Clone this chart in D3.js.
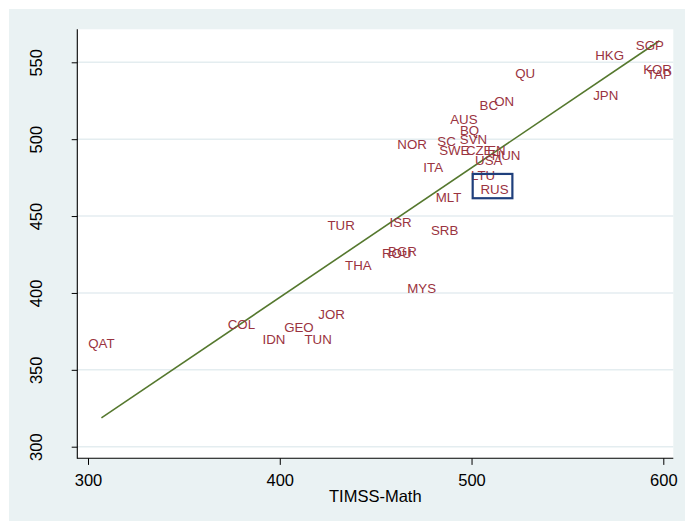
<!DOCTYPE html>
<html>
<head>
<meta charset="utf-8">
<script src="https://cdn.jsdelivr.net/npm/d3@7"></script>
<style>
  html, body { margin: 0; padding: 0; background: #ffffff; }
  svg { display: block; font-family: "Liberation Sans", Arial, Helvetica, sans-serif; }
</style>
</head>
<body>
<svg id="chart" width="685" height="521"></svg>
<script>
// ---- data ----
const countries = ["QAT","COL","IDN","GEO","TUN","JOR","THA","ROU","BGR","MYS",
                   "TUR","ISR","SRB","MLT","ITA","NOR","SC","SWE","BQ","AUS",
                   "SVN","CZE","EN","HUN","USA","LTU","RUS","BC","ON","QU",
                   "JPN","HKG","SGP","KOR","TAP"];
const timssMath = [307,380,397,410,420,427,441,461,464,474,
                   432,463,486,488,480,469,487,491,499,496,
                   501,504,513,518,509,506,512,509,517,528,
                   570,572,593,597,598];
const pisaMath  = [367.5,379.5,370,378,370,386,418,426,427,403,
                   444,446,441,462,482,497,498.5,493,506,513,
                   500,492.5,493,489.5,486,476.5,467.5,522,525,543,
                   528.5,554.5,561,545.5,542];
const fitX = [307, 598];
const fitY = [318.7, 564];
const boxX = [500.6, 521.3];
const boxY = [461.6, 477.4];
const xTicks = [300, 400, 500, 600];
const yTicks = [300, 350, 400, 450, 500, 550];
const xTitle = "TIMSS-Math";
const highlight = "RUS";

// ---- layout ----
const svg = d3.select("#chart");
const W = 685, H = 521;
const plot = {left: 77.3, right: 673.3, top: 29.3, bottom: 458.3};
const x = d3.scaleLinear().domain([300, 600]).range([88, 663.3]);
const y = d3.scaleLinear().domain([300, 550]).range([446.7, 62.3]);

const bg = "#eaf2f3";
svg.append("rect").attr("x", 0).attr("y", 0).attr("width", W).attr("height", H).attr("fill", "#ffffff");
svg.append("rect").attr("x", 9).attr("y", 9).attr("width", W - 9).attr("height", H - 9).attr("fill", bg);
svg.append("rect").attr("x", plot.left).attr("y", plot.top)
   .attr("width", plot.right - plot.left).attr("height", plot.bottom - plot.top)
   .attr("fill", "#ffffff");

// gridlines
svg.append("g").selectAll("line").data(yTicks).join("line")
   .attr("x1", plot.left).attr("x2", plot.right)
   .attr("y1", d => y(d)).attr("y2", d => y(d))
   .attr("stroke", "#e4edf0").attr("stroke-width", 1.5);

// axes
const axFont = 16.5;
const gx = svg.append("g").attr("transform", `translate(0,${plot.bottom})`)
   .call(d3.axisBottom(x).tickValues(xTicks).tickSize(6.6).tickFormat(d3.format("d")));
gx.select(".domain").remove();
gx.selectAll(".tick line").attr("stroke", "#000").attr("stroke-width", 1);
gx.selectAll(".tick text")
   .attr("y", 27.6).attr("dy", null)
   .attr("font-size", axFont).attr("fill", "#000")
   .attr("font-family", "Liberation Sans, Arial, sans-serif");

const gy = svg.append("g").attr("transform", `translate(${plot.left},0)`)
   .call(d3.axisLeft(y).tickValues(yTicks).tickSize(5.6).tickFormat(d3.format("d")));
gy.select(".domain").remove();
gy.selectAll(".tick line").attr("stroke", "#000").attr("stroke-width", 1);
gy.selectAll(".tick text")
   .attr("x", null).attr("dy", null)
   .attr("transform", "translate(-35.4,0) rotate(-90)")
   .attr("text-anchor", "middle")
   .attr("font-size", axFont).attr("fill", "#000")
   .attr("font-family", "Liberation Sans, Arial, sans-serif");

// axis lines
svg.append("line").attr("x1", plot.left).attr("x2", plot.left)
   .attr("y1", plot.top).attr("y2", plot.bottom + 0.5)
   .attr("stroke", "#000").attr("stroke-width", 1.1);
svg.append("line").attr("x1", plot.left).attr("x2", plot.right)
   .attr("y1", plot.bottom).attr("y2", plot.bottom)
   .attr("stroke", "#000").attr("stroke-width", 1.1);

// axis title
svg.append("text")
   .attr("x", (plot.left + plot.right) / 2).attr("y", 496 + 0.358 * axFont)
   .attr("text-anchor", "middle").attr("font-size", axFont).attr("fill", "#000")
   .text(xTitle);

// fitted line
svg.append("line")
   .attr("x1", x(fitX[0])).attr("y1", y(fitY[0]))
   .attr("x2", x(fitX[1])).attr("y2", y(fitY[1]))
   .attr("stroke", "#55782e").attr("stroke-width", 1.6);

// labels
const data = countries.map((c, i) => ({c, tx: timssMath[i], py: pisaMath[i]}));
const lblSize = 13.3;
svg.append("g").selectAll("text").data(data).join("text")
   .attr("x", d => x(d.tx)).attr("y", d => y(d.py))
   .attr("dy", (0.358 * lblSize) + "px")
   .attr("text-anchor", "middle")
   .attr("font-size", lblSize)
   .attr("fill", "#9a3340")
   .text(d => d.c);

// highlight box
svg.append("rect")
   .attr("x", x(boxX[0])).attr("y", y(boxY[1]))
   .attr("width", x(boxX[1]) - x(boxX[0])).attr("height", y(boxY[0]) - y(boxY[1]))
   .attr("fill", "none").attr("stroke", "#1f3f7c").attr("stroke-width", 2.2);
</script>
</body>
</html>
